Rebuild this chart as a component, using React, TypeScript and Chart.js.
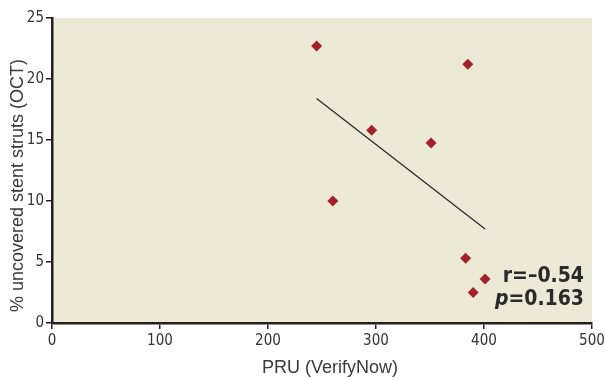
import React, { useEffect, useRef } from "react";
import { Chart, registerables } from "chart.js";

Chart.register(...registerables);

const pruValues = [245, 385, 296, 351, 260, 383, 401, 390];
const uncoveredValues = [22.7, 21.2, 15.8, 14.75, 10.0, 5.3, 3.6, 2.5];
const fitX = [245, 401];
const fitY = [18.4, 7.7];
const xTicks = [0, 100, 200, 300, 400, 500];
const yTicks = [0, 5, 10, 15, 20, 25];
const statLines = ["r=\u20130.54", "p=0.163"];
const xTitle = "PRU (VerifyNow)";
const yTitle = "% uncovered stent struts (OCT)";

const bgPlugin = {
  id: "bgFill",
  beforeDraw(chart: any) {
    const { ctx, chartArea } = chart;
    ctx.save();
    ctx.fillStyle = "#ECE9D6";
    ctx.fillRect(chartArea.left, chartArea.top, chartArea.right - chartArea.left, chartArea.bottom - chartArea.top);
    ctx.restore();
  },
  afterDraw(chart: any) {
    const { ctx, chartArea } = chart;
    ctx.save();
    ctx.fillStyle = "#3a3a3a";
    ctx.font = "18px 'Liberation Sans', Arial, sans-serif";
    ctx.textAlign = "center";
    ctx.textBaseline = "middle";
    ctx.fillText(xTitle, (chartArea.left + chartArea.right) / 2 + 8, chartArea.bottom + 45);
    ctx.save();
    ctx.translate(18, (chartArea.top + chartArea.bottom) / 2 + 15);
    ctx.rotate(-Math.PI / 2);
    ctx.fillText(yTitle, 0, 0);
    ctx.restore();

    ctx.fillStyle = "#2a2a2a";
    ctx.textAlign = "right";
    ctx.textBaseline = "middle";
    const font = "bold 21px 'Liberation Sans Narrow', 'DejaVu Sans Condensed', sans-serif";
    const fontIt = "italic bold 21px 'Liberation Sans Narrow', 'DejaVu Sans Condensed', sans-serif";
    const right = chartArea.right - 8;
    ctx.font = font;
    ctx.fillText(statLines[0], right, 277);
    const rest = statLines[1].slice(1);
    ctx.font = font;
    const wRest = ctx.measureText(rest).width;
    ctx.fillText(rest, right, 300);
    ctx.font = fontIt;
    ctx.fillText(statLines[1][0], right - wRest, 300);
    ctx.restore();
  },
};

export default function App() {
  const ref = useRef<HTMLCanvasElement>(null);
  useEffect(() => {
    document.body.style.margin = "0";
    const tickFont = { family: "'Liberation Sans Narrow', 'DejaVu Sans Condensed', sans-serif", size: 15 };
    const chart = new Chart(ref.current!, {
      type: "scatter",
      data: {
        datasets: [
          {
            data: pruValues.map((x, i) => ({ x, y: uncoveredValues[i] })),
            pointStyle: "rectRot",
            pointRadius: 5.5,
            backgroundColor: "#A3222A",
            borderColor: "#A3222A",
            borderWidth: 0,
            showLine: false,
          },
          {
            data: fitX.map((x, i) => ({ x, y: fitY[i] })),
            showLine: true,
            pointRadius: 0,
            borderColor: "#2a2a2a",
            borderWidth: 1.3,
          },
        ],
      },
      options: {
        responsive: false,
        animation: false,
        layout: { padding: { top: 18, right: 13, left: 0, bottom: 0 } },
        plugins: { legend: { display: false }, tooltip: { enabled: false } },
        scales: {
          x: {
            type: "linear",
            min: 0,
            max: 500,
            afterTickToLabelConversion(scale: any) {
              scale.ticks = xTicks.map((v) => ({ value: v, label: String(v) }));
            },
            afterFit(scale: any) {
              scale.height = 57;
              scale.paddingRight = 0;
              scale.paddingLeft = 0;
            },
            ticks: { color: "#333", font: tickFont, padding: 3, maxRotation: 0 },
            grid: { drawOnChartArea: false, drawTicks: true, tickLength: 6, color: "#231F20", lineWidth: 1.5 },
            border: { color: "#231F20", width: 2.5 },
          },
          y: {
            type: "linear",
            min: 0,
            max: 25,
            afterTickToLabelConversion(scale: any) {
              scale.ticks = yTicks.map((v) => ({ value: v, label: String(v) }));
            },
            afterFit(scale: any) {
              scale.width = 52;
            },
            ticks: { color: "#333", font: tickFont, padding: 2 },
            grid: { drawOnChartArea: false, drawTicks: true, tickLength: 6, color: "#231F20", lineWidth: 1.5 },
            border: { color: "#231F20", width: 2.5 },
          },
        },
      },
      plugins: [bgPlugin],
    } as any);
    return () => chart.destroy();
  }, []);
  return <canvas ref={ref} width={605} height={380} style={{ display: "block" }} />;
}
